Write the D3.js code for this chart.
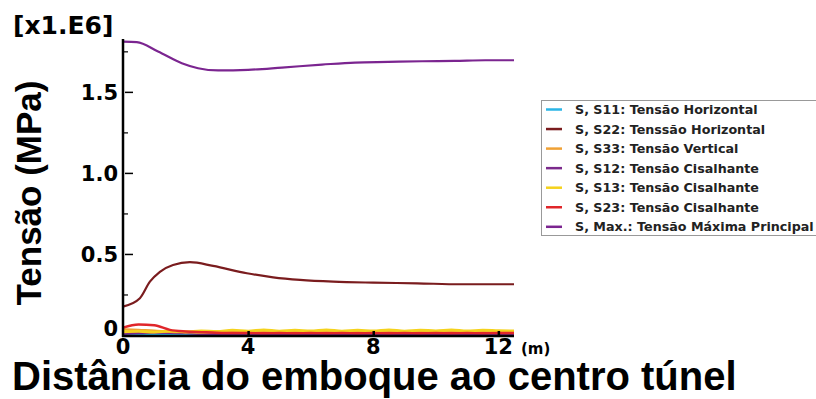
<!DOCTYPE html>
<html lang="pt">
<head>
<meta charset="utf-8">
<title>Tensão ao longo do túnel</title>
<script src="https://cdnjs.cloudflare.com/ajax/libs/d3/7.8.5/d3.min.js"></script>
<style>
  body { margin: 0; background: #fff; }
  svg { display: block; }
</style>
</head>
<body>
<script>
// curva S, Max. (tensão máxima principal)
const xMax = [0, 0.44, 1.12, 1.88, 2.4, 3.04, 4, 5.08, 6.36, 7.42, 8.48, 9.56, 10.6, 11.58, 12.5];
const sMax = [1.81, 1.807, 1.749, 1.677, 1.646, 1.632, 1.636, 1.65, 1.668, 1.681, 1.685, 1.689, 1.691, 1.695, 1.695];

// curva S22
const x22 = [0, 0.54, 0.86, 1.18, 1.6, 2.14, 2.88, 3.96, 4.8, 5.66, 6.72, 8.0, 9.4, 10.78, 12.06, 12.5];
const s22 = [0.175, 0.227, 0.329, 0.39, 0.432, 0.449, 0.426, 0.381, 0.356, 0.34, 0.329, 0.323, 0.319, 0.313, 0.313, 0.313];

// curvas pequenas perto de zero
const xSmall = [0, 0.5, 1, 1.5, 2, 2.5, 3, 3.5, 4, 4.5, 5, 5.5, 6, 6.5, 7, 7.5, 8, 8.5, 9, 9.5, 10, 10.5, 11, 11.5, 12, 12.5];
const s11 = [0.004, 0.004, 0.003, 0.003, 0.003, 0.003, 0.003, 0.003, 0.003, 0.003, 0.003, 0.003, 0.003, 0.003, 0.003, 0.003, 0.003, 0.003, 0.003, 0.003, 0.003, 0.003, 0.003, 0.003, 0.003, 0.003];
const s33 = [0.035, 0.03, 0.026, 0.02, 0.018, 0.016, 0.02, 0.018, 0.02, 0.017, 0.02, 0.018, 0.021, 0.017, 0.02, 0.018, 0.02, 0.017, 0.02, 0.018, 0.02, 0.017, 0.02, 0.018, 0.021, 0.02];
const s12 = [0.008, 0.012, 0.015, 0.014, 0.012, 0.008, 0.006, 0.006, 0.005, 0.005, 0.005, 0.005, 0.005, 0.005, 0.005, 0.005, 0.005, 0.005, 0.005, 0.005, 0.005, 0.005, 0.005, 0.005, 0.005, 0.005];
const s13 = [0.02, 0.022, 0.018, 0.024, 0.02, 0.026, 0.022, 0.03, 0.024, 0.032, 0.024, 0.03, 0.025, 0.032, 0.024, 0.03, 0.025, 0.032, 0.024, 0.03, 0.026, 0.032, 0.025, 0.03, 0.027, 0.025];
const s23 = [0.045, 0.065, 0.06, 0.032, 0.022, 0.018, 0.014, 0.012, 0.012, 0.011, 0.012, 0.011, 0.012, 0.011, 0.012, 0.011, 0.012, 0.011, 0.012, 0.011, 0.012, 0.011, 0.012, 0.011, 0.012, 0.012];

const yMajor = [0, 0.5, 1.0, 1.5];
const yMinor = [0.25, 0.75, 1.25, 1.75];
const xTicks = [0, 4, 8, 12];

const legendNames = [
  "S, S11: Tensão Horizontal",
  "S, S22: Tenssão Horizontal",
  "S, S33: Tensão Vertical",
  "S, S12: Tensão Cisalhante",
  "S, S13: Tensão Cisalhante",
  "S, S23: Tensão Cisalhante",
  "S, Max.: Tensão Máxima Principal"
];
const legendColors = ["#2bb5e6", "#7a1c1e", "#f0a135", "#7b2a8c", "#f5d21c", "#e0262a", "#7b2590"];

const width = 816, height = 399;

const svg = d3.select("body").append("svg")
  .attr("width", width)
  .attr("height", height);

const x = d3.scaleLinear().domain([0, 12.5]).range([123, 514]);
const y = d3.scaleLinear().domain([0, 1.82]).range([335, 40]);

const line = d3.line()
  .x(d => x(d[0]))
  .y(d => y(d[1]))
  .curve(d3.curveMonotoneX);

const series = [
  { xs: xSmall, ys: s11, color: legendColors[0], w: 2.6 },
  { xs: xSmall, ys: s12, color: legendColors[3], w: 2.6 },
  { xs: xSmall, ys: s33, color: legendColors[2], w: 2.6 },
  { xs: xSmall, ys: s13, color: legendColors[4], w: 2.8 },
  { xs: xSmall, ys: s23, color: legendColors[5], w: 2.4 },
  { xs: x22, ys: s22, color: legendColors[1], w: 2.2 },
  { xs: xMax, ys: sMax, color: legendColors[6], w: 2.2 }
];

svg.append("g").selectAll("path")
  .data(series)
  .enter().append("path")
  .attr("d", s => line(s.xs.map((v, i) => [v, s.ys[i]])))
  .attr("fill", "none")
  .attr("stroke", s => s.color)
  .attr("stroke-width", s => s.w);

// eixos
const yAxis = d3.axisLeft(y).tickValues(yMajor.slice(1)).tickSize(-10).tickFormat("");
svg.append("g").attr("transform", "translate(123,0)").call(yAxis)
  .call(g => g.select(".domain").remove())
  .selectAll("line").attr("stroke", "#000").attr("stroke-width", 1.5).attr("x1", 2);

svg.append("g").attr("transform", "translate(123,0)")
  .call(d3.axisLeft(y).tickValues(yMinor).tickSize(-5).tickFormat(""))
  .call(g => g.select(".domain").remove())
  .selectAll("line").attr("stroke", "#000").attr("stroke-width", 1.2);

svg.append("g").attr("transform", "translate(0,336)")
  .call(d3.axisBottom(x).tickValues(xTicks.slice(1)).tickSize(-5).tickFormat(""))
  .call(g => g.select(".domain").remove())
  .selectAll("line").attr("stroke", "#000").attr("stroke-width", 2.5);

svg.append("line").attr("x1", 123).attr("x2", 123).attr("y1", 39).attr("y2", 337)
  .attr("stroke", "#000").attr("stroke-width", 2.5);
svg.append("line").attr("x1", 122).attr("x2", x(12.5)).attr("y1", 336).attr("y2", 336)
  .attr("stroke", "#000").attr("stroke-width", 2.5);

const tickFont = "'DejaVu Sans', Verdana, sans-serif";

svg.append("g").selectAll("text")
  .data(yMajor)
  .enter().append("text")
  .attr("x", 118)
  .attr("y", d => d === 0 ? y(d) + 1 : y(d) + 8)
  .attr("text-anchor", "end")
  .attr("font-family", tickFont)
  .attr("font-weight", "bold")
  .attr("font-size", 21)
  .text(d => d === 0 ? "0" : d.toFixed(1));

svg.append("g").selectAll("text")
  .data(xTicks)
  .enter().append("text")
  .attr("x", d => x(d))
  .attr("y", 354)
  .attr("text-anchor", "middle")
  .attr("font-family", tickFont)
  .attr("font-weight", "bold")
  .attr("font-size", 21)
  .text(d => d);

svg.append("text")
  .attr("x", 521).attr("y", 354)
  .attr("font-family", tickFont)
  .attr("font-weight", "bold")
  .attr("font-size", 15)
  .text("(m)");

svg.append("text")
  .attr("x", 13).attr("y", 34)
  .attr("font-family", tickFont)
  .attr("font-weight", "bold")
  .attr("font-size", 25)
  .text("[x1.E6]");

// títulos
svg.append("text")
  .attr("transform", "translate(41,193) rotate(-90)")
  .attr("text-anchor", "middle")
  .attr("font-family", "'Liberation Sans', Arial, sans-serif")
  .attr("font-weight", "bold")
  .attr("font-size", 35)
  .text("Tensão (MPa)");

svg.append("text")
  .attr("x", 12).attr("y", 390)
  .attr("font-family", "'Liberation Sans', Arial, sans-serif")
  .attr("font-weight", "bold")
  .attr("font-size", 40)
  .text("Distância do emboque ao centro túnel");

// legenda
const legend = svg.append("g");
legend.append("rect")
  .attr("x", 541.5).attr("y", 100.5)
  .attr("width", 290).attr("height", 135)
  .attr("fill", "#fff")
  .attr("stroke", "#999");

const rows = legend.selectAll("g.row")
  .data(legendNames)
  .enter().append("g")
  .attr("class", "row")
  .attr("transform", (d, i) => `translate(0,${109.5 + i * 19.55})`);

rows.append("line")
  .attr("x1", 546).attr("x2", 562)
  .attr("stroke", (d, i) => legendColors[i])
  .attr("stroke-width", 2.5);

rows.append("text")
  .attr("x", 575).attr("y", 4.5)
  .attr("font-family", tickFont)
  .attr("font-weight", "bold")
  .attr("font-size", 12.7)
  .attr("fill", "#222")
  .text(d => d);
</script>
</body>
</html>
